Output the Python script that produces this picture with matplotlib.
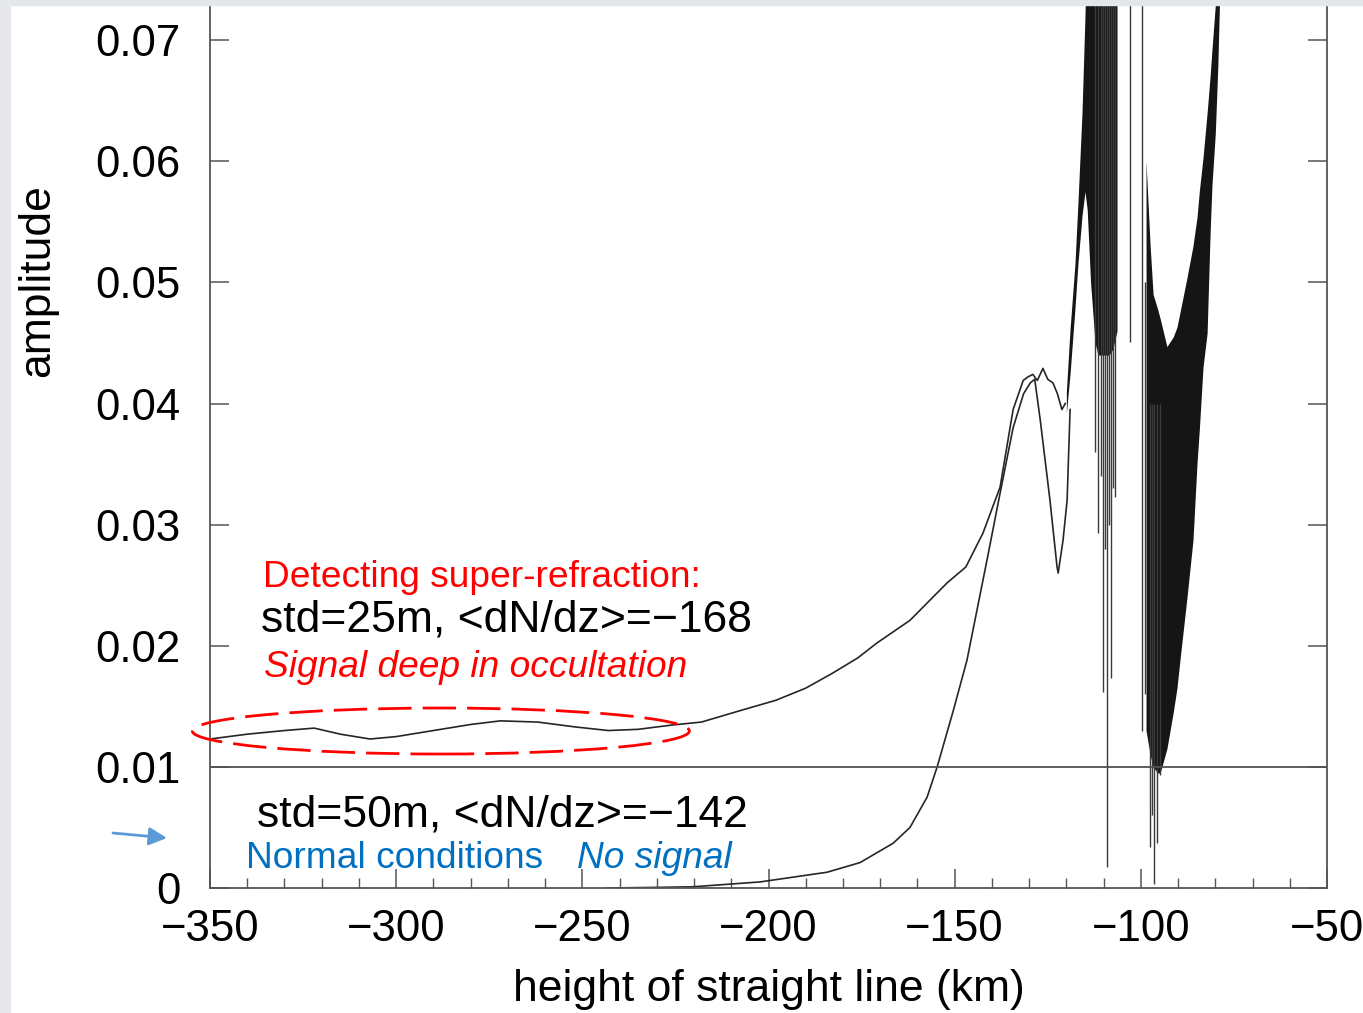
import numpy as np
import matplotlib.pyplot as plt
from matplotlib.patches import Ellipse, Rectangle
from matplotlib.ticker import MultipleLocator

plt.rcParams['font.family'] = ['Liberation Sans', 'DejaVu Sans']

# curva super-refraccion (std=25m), parte suave
x_sr = [-350, -340, -330, -322, -315, -307, -300, -290, -280, -272, -262, -252,
        -243, -235, -226, -218, -207, -198, -190, -183, -176, -171, -162, -152,
        -147, -142.4, -137.8, -134.3, -131.6, -130.3, -129.0, -127.8, -126.3,
        -125.0, -123.6, -122.4, -121.2, -120.3]
y_sr = [0.0123, 0.0127, 0.0130, 0.0132, 0.0127, 0.0123, 0.0125, 0.0130, 0.0135,
        0.0138, 0.0137, 0.0133, 0.0130, 0.0131, 0.01345, 0.0137, 0.0147, 0.0155,
        0.0165, 0.0177, 0.0190, 0.0202, 0.0221, 0.0252, 0.0265, 0.0293, 0.0331,
        0.0395, 0.0419, 0.0422, 0.0424, 0.0419, 0.0429, 0.0420, 0.0417, 0.0408,
        0.0395, 0.0400]

# curva condiciones normales (std=50m)
x_nc = [-243.4, -230, -220.3, -202.3, -184.3, -175.4, -166.5, -162, -157.4,
        -154.7, -150.5, -146.7, -141.3, -137.8, -134.3, -131.5, -129.7, -128.5,
        -127.0, -124.4, -122.5, -122.2, -120.9, -119.8, -119.0]
y_nc = [0.0000, 0.00005, 0.0001, 0.0005, 0.0013, 0.0021, 0.0037, 0.0050, 0.0075,
        0.0100, 0.0145, 0.0188, 0.0271, 0.0326, 0.0380, 0.0408, 0.0417, 0.0420,
        0.0386, 0.0320, 0.0265, 0.0260, 0.0287, 0.0320, 0.0395]

# zona oscilante 1 (subida y bloque denso)
x_blk1 = [-120.0, -119.0, -117.7, -116.9, -115.8, -115.0, -114.4, -113.5, -112.8,
          -112.3, -111.5, -110.5, -109.5, -108.5, -107.5, -106.4]
lo_blk1 = [0.0392, 0.0425, 0.0478, 0.0515, 0.0555, 0.0575, 0.0560, 0.0500, 0.0471,
           0.0450, 0.0440, 0.0440, 0.0440, 0.0440, 0.0445, 0.0460]
hi_blk1 = [0.0410, 0.0462, 0.0515, 0.0565, 0.0640, 0.0720, 0.080, 0.080, 0.080,
           0.080, 0.080, 0.080, 0.080, 0.080, 0.080, 0.080]

# zona oscilante 2 (forma de V)
x_blk2 = [-98.6, -97.5, -96.7, -95.5, -94.8, -93.0, -91.3, -90.3, -89.5, -87.6,
          -86.0, -84.9, -84.3, -83.3, -82.2, -81.4, -80.9, -80.0, -79.3, -78.8]
lo_blk2 = [0.0130, 0.0110, 0.0100, 0.0095, 0.0095, 0.0115, 0.0145, 0.0165, 0.0188,
           0.0240, 0.0287, 0.0351, 0.0378, 0.0430, 0.0458, 0.0540, 0.0580, 0.0623,
           0.0680, 0.0740]
hi_blk2 = [0.0600, 0.0530, 0.0490, 0.0478, 0.0470, 0.0447, 0.0455, 0.0463, 0.0475,
           0.0504, 0.0530, 0.0554, 0.0575, 0.0603, 0.0640, 0.0670, 0.0692, 0.0729,
           0.080, 0.080]

# picos aislados
x_spk = [-112.3, -111.5, -110.8, -110.1, -109.6, -109.1, -108.5, -108.0, -107.4,
         -106.9, -102.9, -99.6, -98.9, -97.6, -97.0, -96.5, -95.6, -94.9]
lo_spk = [0.0360, 0.0293, 0.0340, 0.0162, 0.0280, 0.0017, 0.0300, 0.0173, 0.0330,
          0.0323, 0.0451, 0.0130, 0.0160, 0.0034, 0.0060, 0.0003, 0.0037, 0.0093]
hi_spk = [0.080, 0.080, 0.080, 0.080, 0.080, 0.080, 0.080, 0.080, 0.080,
          0.080, 0.080, 0.080, 0.0500, 0.0400, 0.0400, 0.0400, 0.0400, 0.0400]

y_ticks = [0, 0.01, 0.02, 0.03, 0.04, 0.05, 0.06, 0.07]
y_tick_labels = ['0', '0.01', '0.02', '0.03', '0.04', '0.05', '0.06', '0.07']
x_ticks = [-350, -300, -250, -200, -150, -100, -50]
umbral = 0.01

fig = plt.figure(figsize=(13.63, 10.13), dpi=100)
fig.patches.append(Rectangle((0, 1 - 5 / 1013), 1, 5 / 1013, transform=fig.transFigure,
                             color='#e3e6ea', zorder=0))
fig.patches.append(Rectangle((0, 0), 10 / 1363, 1, transform=fig.transFigure,
                             color='#e6e8eb', zorder=0))

ax = fig.add_axes([210 / 1363, 125 / 1013, 1117 / 1363, 883 / 1013])
ax.set_facecolor('none')

color_linea = '#262626'
ax.plot(x_sr, y_sr, color=color_linea, lw=1.2)
ax.plot(x_nc, y_nc, color=color_linea, lw=1.2)
ax.fill_between(x_blk1, lo_blk1, hi_blk1, color='#151515', lw=0)
ax.fill_between(x_blk2, lo_blk2, hi_blk2, color='#151515', lw=0)
ax.vlines(x_spk, lo_spk, hi_spk, color='#3a3a3a', lw=1.0)
ax.axhline(umbral, color='#505050', lw=1.3)

ax.set_xlim(-350, -50)
ax.set_ylim(0, 0.0729)
ax.set_xticks(x_ticks)
ax.xaxis.set_minor_locator(MultipleLocator(10))
ax.set_yticks(y_ticks, y_tick_labels)
ax.tick_params(axis='both', which='major', direction='in', length=13.5, width=1.1,
               color='#555555', labelsize=31.5)
ax.tick_params(axis='y', right=True, pad=21)
ax.tick_params(axis='x', pad=15)
ax.tick_params(axis='x', which='minor', direction='in', length=7, width=1.0, color='#555555')
ax.spines['top'].set_visible(False)
for s in ['left', 'right', 'bottom']:
    ax.spines[s].set_color('#555555')
    ax.spines[s].set_linewidth(1.3)

fig.text(38 / 1363, 1 - 281 / 1013, 'amplitude', rotation=90, ha='center', va='center',
         fontsize=32)
fig.text(768.5 / 1363, 1 - 1001 / 1013, 'height of straight line (km)', ha='center',
         va='baseline', fontsize=32)

ax.text(-335.8, 0.02487, 'Detecting super-refraction:', color='#ff0000', fontsize=26.7,
        va='baseline')
ax.text(-336.2, 0.02116, 'std=25m, <dN/dz>=\u2212168', color='black', fontsize=32,
        va='baseline')
ax.text(-335.6, 0.01744, 'Signal deep in occultation', color='#ff0000', fontsize=26.7,
        style='italic', va='baseline')
ax.text(-337.4, 0.00506, 'std=50m, <dN/dz>=\u2212142', color='black', fontsize=32,
        va='baseline')
ax.text(-340.3, 0.00163, 'Normal conditions', color='#0070c0', fontsize=26.7,
        va='baseline')
ax.text(-251.5, 0.00163, 'No signal', color='#0070c0', fontsize=26.7, style='italic',
        va='baseline')

elipse = Ellipse((-288, 0.01296), 133.5, 0.0038, fill=False, edgecolor='#ff0000',
                 lw=2.0, ls=(0, (12, 4)), clip_on=False, zorder=5)
ax.add_patch(elipse)

ax.annotate('', xy=(167 / 1363, 1 - 838 / 1013), xytext=(113 / 1363, 1 - 833 / 1013),
            xycoords='figure fraction', textcoords='figure fraction',
            arrowprops=dict(arrowstyle='-|>,head_length=0.4,head_width=0.2',
                            color='#5b9bd5', lw=2, mutation_scale=27, shrinkA=0, shrinkB=0))

fig.savefig('out.png', dpi=100)
